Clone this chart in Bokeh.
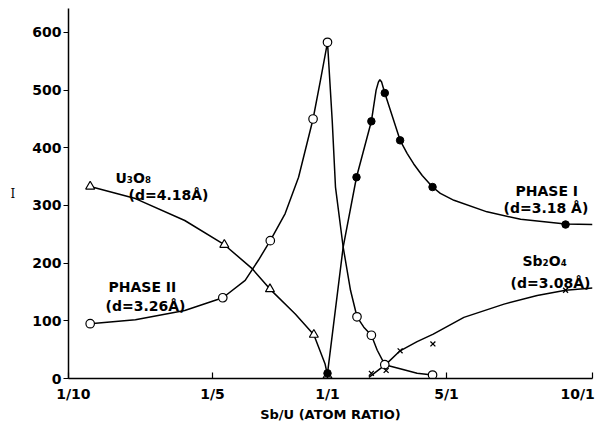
import numpy as np
from bokeh.plotting import figure
from bokeh.models import Range1d, FixedTicker, Label, Title
from bokeh.embed import file_html
from bokeh.resources import INLINE

# ---- axis definitions ----
TICK_RATIOS = [0.1, 0.2, 1.0, 5.0, 10.0]
TICK_LABELS = ["1/10", "1/5", "1/1", "5/1", "10/1"]
Y_TICKS = [0, 100, 200, 300, 400, 500, 600]

# ---- measured points (Sb/U ratio, intensity I) ----
phase2_r = [0.111, 0.231, 0.449, 0.817, 1.0, 1.49, 1.81, 2.17, 4.14]
phase2_I = [95, 140, 239, 450, 583, 107, 75, 24, 6]

phase1_r = [1.0, 1.48, 1.81, 2.17, 2.67, 4.14, 8.8]
phase1_I = [9, 349, 446, 495, 413, 332, 267]

u3o8_r = [0.111, 0.236, 0.447, 0.826, 1.0]
u3o8_I = [333, 232, 155, 76, 5]

sb2o4_r = [1.81, 2.21, 2.67, 4.16, 8.8]
sb2o4_I = [9, 14, 48, 60, 153]

# ---- hand-drawn curves ----
phase2_curve_r = [0.111, 0.138, 0.175, 0.231, 0.316, 0.38, 0.449, 0.553, 0.667, 0.817, 0.906,
                  1.0, 1.066, 1.114, 1.236, 1.365, 1.49, 1.634, 1.81, 1.96, 2.17, 2.67, 3.36, 4.14]
phase2_curve_I = [95, 102, 118, 140, 170, 205, 239, 286, 349, 450, 517,
                  583, 447, 332, 228, 153, 107, 89, 75, 49, 24, 17, 9, 6]

phase1_curve_r = [1.0, 1.236, 1.48, 1.81, 1.93, 1.99, 2.03, 2.08, 2.17, 2.67, 2.94, 3.21, 3.6,
                  4.14, 4.6, 5.18, 6.06, 7.11, 8.8, 10.0]
phase1_curve_I = [9, 228, 349, 446, 500, 514, 518, 514, 495, 413, 390, 372, 352,
                  332, 321, 309, 289, 276, 268, 267]

u3o8_curve_r = [0.111, 0.138, 0.175, 0.236, 0.347, 0.447, 0.637, 0.826, 0.967, 1.0]
u3o8_curve_I = [333, 312, 274, 232, 191, 155, 112, 76, 25, 6]

sb2o4_curve_r = [1.75, 2.21, 2.67, 3.36, 4.18, 5.43, 6.57, 7.69, 8.8, 10.0]
sb2o4_curve_I = [2, 25, 48, 64, 77, 106, 129, 144, 153, 157]

# ---- layout of the (non-uniform) ratio axis ----
TICK_POS = [0, 144, 259, 378, 524]


def xpos(r):
    return np.interp(np.log10(np.asarray(r, dtype=float)), np.log10(TICK_RATIOS), TICK_POS)


FONT = "DejaVu Sans"
NB = "\u00a0"

p = figure(width=604, height=430, output_backend="svg", toolbar_location=None,
           x_range=Range1d(0, TICK_POS[-1]), y_range=Range1d(0, 641.6),
           min_border_left=68, min_border_right=12, min_border_top=8, min_border_bottom=52)
p.outline_line_color = None
p.xgrid.grid_line_color = None
p.ygrid.grid_line_color = None
p.background_fill_color = "white"
p.border_fill_color = "white"

# y axis
p.yaxis.ticker = FixedTicker(ticks=Y_TICKS)
p.yaxis.major_tick_out = 5
p.yaxis.major_tick_in = 0
p.yaxis.minor_tick_line_color = None
p.yaxis.axis_line_width = 1.5
p.yaxis.axis_line_color = "black"
p.yaxis.major_tick_line_width = 1.2
p.yaxis.major_tick_line_color = "black"
p.yaxis.major_label_text_font = FONT
p.yaxis.major_label_text_font_style = "bold"
p.yaxis.major_label_text_font_size = "14px"
p.yaxis.major_label_text_color = "black"
p.yaxis.major_label_standoff = 2
p.yaxis.axis_label = "I"
p.yaxis.axis_label_orientation = "horizontal"
p.yaxis.axis_label_text_font = "DejaVu Serif"
p.yaxis.axis_label_text_font_style = "normal"
p.yaxis.axis_label_text_font_size = "12px"
p.yaxis.axis_label_text_color = "black"
p.yaxis.axis_label_text_baseline = "bottom"
p.yaxis.axis_label_standoff = 14

# x axis
p.xaxis.ticker = FixedTicker(ticks=TICK_POS)
p.xaxis.major_tick_out = 0
p.xaxis.major_tick_in = 6
p.xaxis.minor_tick_line_color = None
p.xaxis.axis_line_width = 1.5
p.xaxis.axis_line_color = "black"
p.xaxis.major_tick_line_width = 1.2
p.xaxis.major_tick_line_color = "black"
overrides = {}
for i, (pos, lab) in enumerate(zip(TICK_POS, TICK_LABELS)):
    if i == 0:
        lab = NB + NB + lab
    elif i == len(TICK_POS) - 1:
        lab = lab + NB + NB
    overrides[pos] = lab
p.xaxis.major_label_overrides = overrides
p.xaxis.major_label_text_font = FONT
p.xaxis.major_label_text_font_style = "bold"
p.xaxis.major_label_text_font_size = "14px"
p.xaxis.major_label_text_color = "black"
p.xaxis.major_label_standoff = 7

p.add_layout(Title(text="Sb/U (ATOM RATIO)", align="center", offset=-25,
                   text_font=FONT, text_font_style="bold", text_font_size="13px",
                   text_color="black", standoff=0), "below")

# curves
LW = 1.5
p.line(xpos(phase2_curve_r), phase2_curve_I, line_color="black", line_width=LW)
p.line(xpos(phase1_curve_r), phase1_curve_I, line_color="black", line_width=LW)
p.line(xpos(u3o8_curve_r), u3o8_curve_I, line_color="black", line_width=LW)
p.line(xpos(sb2o4_curve_r), sb2o4_curve_I, line_color="black", line_width=LW)

# markers
p.scatter(xpos(u3o8_r), u3o8_I, marker="triangle", size=9, fill_color="white",
          line_color="black", line_width=1.2)
p.scatter(xpos(phase2_r), phase2_I, marker="circle", size=8.5, fill_color="white",
          line_color="black", line_width=1.2)
p.scatter(xpos(sb2o4_r), sb2o4_I, marker="x", size=7, line_color="black", line_width=1.3)
p.scatter(xpos(phase1_r), phase1_I, marker="circle", size=7.5, fill_color="black",
          line_color="black")

# curve annotations
ann = [
    (47, 348, "U\u2083O\u2088"),
    (60, 319, "(d=4.18\u00c5)"),
    (40, 159.5, "PHASE II"),
    (37, 125, "(d=3.26\u00c5)"),
    (447, 326, "PHASE I"),
    (435, 295.6, "(d=3.18 \u00c5)"),
    (454, 203, "Sb\u2082O\u2084"),
    (442, 165.6, "(d=3.08\u00c5)"),
]
for ax, ay, t in ann:
    p.add_layout(Label(x=ax, y=ay, text=t, text_align="left", text_baseline="middle",
                       text_font=FONT, text_font_style="bold", text_font_size="14px",
                       text_color="black"))

open("out.html", "w").write(file_html(p, INLINE))
